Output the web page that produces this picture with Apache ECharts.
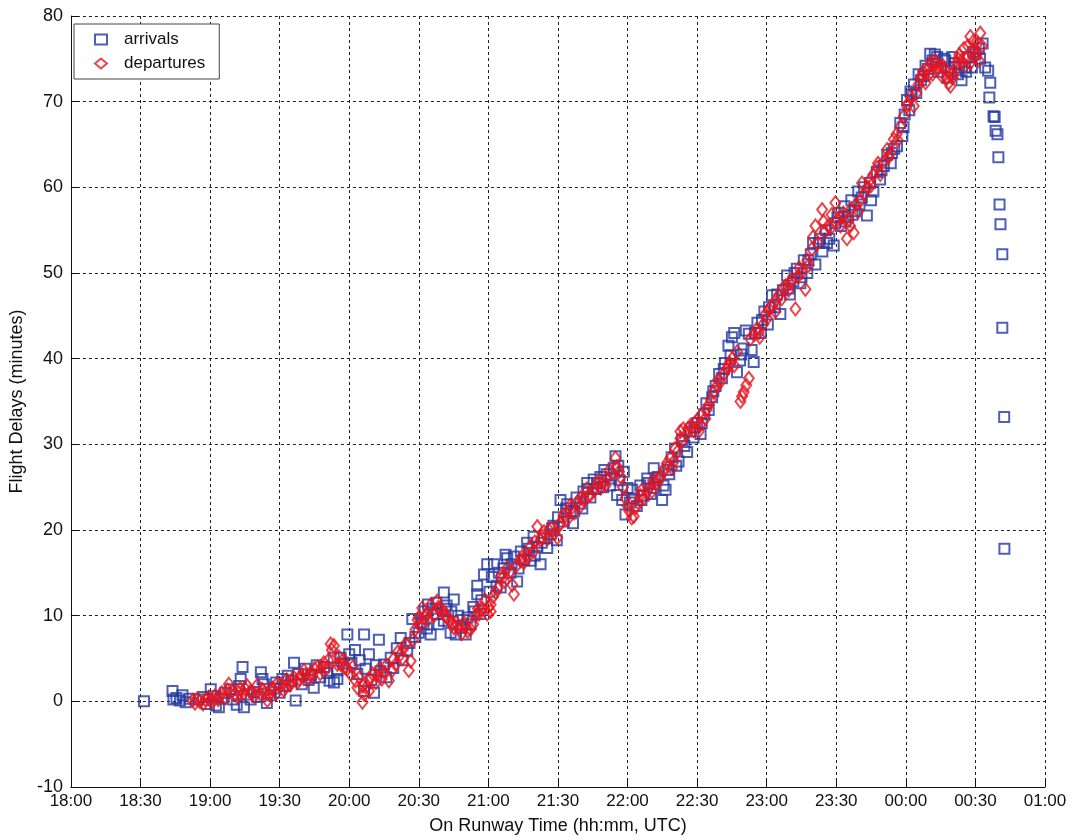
<!DOCTYPE html>
<html>
<head>
<meta charset="utf-8">
<script src="https://cdn.jsdelivr.net/npm/echarts@6/dist/echarts.min.js"></script>
<style>html,body{margin:0;padding:0;background:#fff}#c{width:1073px;height:840px}</style>
</head>
<body>
<div id="c"></div>
<script>
// x values: minutes after 18:00 UTC; y values: delay in minutes
const xTickLabels = ["18:00","18:30","19:00","19:30","20:00","20:30","21:00","21:30","22:00","22:30","23:00","23:30","00:00","00:30","01:00"];
const yTicks = [-10,0,10,20,30,40,50,60,70,80];
const seriesNames = ["arrivals","departures"];

const arrivals = [
[31.5,0],
[43.8,1.2],[44.2,0.2],[45.5,0.4],[47,0.1],[48.1,0.7],[49.5,-0.1],[51,0.3],
[55,0.2],[57,0.5],[58.5,-0.3],[60.3,1.4],[61.5,0.6],[62.5,-0.5],[63.8,-0.7],[65,0.3],[66.5,1.0],[68.9,1.4],[70,0.2],[71.5,-0.4],[72.5,1.8],[73.2,2.6],[74,4.0],[74.6,-0.7],[76,0.8],[77.5,0.2],[79,1.1],[80.5,0.5],[81.9,3.4],[82.6,2.6],[83.2,2.0],[84.5,-0.2],[86.2,0.7],[87.5,1.5],[88.5,2.2],[90,1.0],[91.2,2.6],[92.5,1.8],[93.5,3.0],[95,2.4],[96.2,4.5],[96.9,0.1],[98,3.2],[99.5,2.0],[101,3.8],[102.5,2.5],[103.5,3.1],[104.7,1.6],[106,4.2],[107.5,2.8],[109.1,4.0],[110.5,3.3],[111.5,2.4],[113.3,5.1],[113.4,2.2],[114.9,2.6],[114.9,3.6],[116.3,5.1],[117.5,4.4],[119.2,7.8],[120,5.5],[121,4.5],[122.5,6.0],[123.5,3.2],[124.5,4.8],[126.4,7.8],[126.4,1.2],[127,3.8],[128.5,5.5],[129.5,2.5],[130.7,1.0],[131.5,4.2],[132.8,7.2],[133.5,3.5],[135,4.3],[136,2.8],[137.9,5.1],[139,3.9],[140.5,6.2],[142.2,7.4],[143,4.8],[145,5.9],[146,6.8],[147.2,9.6],[148.5,7.5],[150,8.0],[151,9.2],[152,9.0],[152.5,10.5],[153.5,8.5],[154,11.3],[155.1,7.8],[156,10.8],[157.5,11.5],[158,10.2],[158.5,9.0],[160.8,12.7],[160.8,9.4],[161.5,10.8],[162,11.2],[163.7,8.0],[164,10.5],[165.1,11.9],[165.9,7.8],[167,10.0],[168.5,8.6],[169,9.5],[170.2,7.8],[171,9.8],[172.3,9.0],[173.5,11.0],[174,10.5],[175.2,13.5],[175.2,12.5],[176.5,10.2],[177,11.8],[178.1,14.8],[179.5,16.0],[180.5,12.8],[181.5,14.5],[182.4,16.0],[183.5,13.5],[184.5,15.0],[185.3,13.3],[186.5,15.5],[187.4,17.1],[188.1,16.7],[189.5,15.0],[190,16.0],[191,16.9],[192.4,14.0],[193,15.5],[194,17.5],[195.5,16.5],[196.7,18.5],[197.5,17.8],[198.2,16.4],[199.5,19.2],[200,17.0],[201,18.0],[202.5,16.0],[203,18.5],[204,19.0],[205.4,17.9],[206.8,19.5],[207.5,20.2],[208,20.5],[209.5,18.8],[210,21.5],[211.1,23.5],[212.5,21.0],[213.5,22.5],[214,23.0],[215.4,22.2],[216.5,20.8],[217,22.2],[218,23.8],[219.7,23.1],[220.5,22.5],[221,24.5],[222.6,25.5],[223,24.8],[224,23.8],[225.4,25.9],[226.5,24.8],[227,25.5],[228.3,26.2],[229.5,25.0],[230,27.0],[231,26.5],[232.5,25.2],[233,26.0],[234,27.2],[234.8,28.6],[235.5,24.1],[236,27.5],[236.5,25.8],[237.7,23.5],[238.4,26.8],[239.1,21.8],[240,24.9],[241,23.2],[242,24.7],[242.7,23.7],[244,22.8],[245.5,25.2],[246,23.5],[247,24.0],[248.5,26.0],[249,25.5],[250,24.2],[251.3,27.2],[251.3,24.9],[252,25.8],[253,26.2],[254.9,23.5],[255.5,25.2],[256.4,24.7],[257.5,27.0],[258,26.5],[259,28.5],[260.5,29.5],[261,27.5],[262,28.0],[263.5,30.5],[264.5,29.8],[265.7,29.1],[267,31.5],[268.5,30.8],[269,32.0],[270,32.5],[271.5,31.2],[272,32.5],[273,33.5],[274,34.8],[275,34.0],[276.5,35.5],[277,36.2],[278,36.8],[279.5,38.2],[280.7,37.7],[281.5,38.8],[282,39.5],[283.5,41.5],[284.4,40.4],[285,42.5],[286,43.0],[287.2,38.4],[288.5,39.8],[289,40.5],[290,41.2],[291,43.3],[292.3,42.9],[293.5,41.0],[294.4,39.6],[295,43.0],[296,44.2],[297.5,43.0],[298,44.5],[299,45.5],[300.5,44.0],[301,46.0],[302.3,47.4],[303.5,46.0],[304.5,47.5],[305.9,45.2],[307,48.0],[308.8,49.7],[309.5,48.2],[310,47.5],[311.5,49.0],[312,50.0],[313,50.5],[314.5,48.8],[315,49.5],[316,51.5],[317.5,50.0],[318,51.5],[319,52.2],[320,53.5],[321,51.0],[322.5,53.5],[323,54.0],[324,52.5],[325.5,55.0],[326,53.5],[327,54.0],[328.9,53.2],[329.5,55.8],[330.5,56.5],[331,57.0],[332,55.5],[333.5,57.8],[334,56.0],[335,56.5],[336.5,58.5],[337,56.8],[338,57.2],[339.5,59.5],[340,58.0],[341,58.8],[342,60.0],[343.2,56.7],[344.5,60.5],[345,58.5],[346,59.5],[347.5,61.8],[348.9,60.9],[349.5,62.0],[350.5,62.5],[352,63.8],[353.5,62.8],[354,64.0],[355,64.5],[356.2,64.8],[357.6,67.5],[358.5,66.0],[359,67.0],[359.5,68.5],[360.5,70.2],[361.5,69.0],[362,71.2],[362.5,70.8],[363.5,72.0],[364.5,71.0],[365.5,73.2],[366.5,72.5],[367.6,73.0],[368.5,74.2],[369.5,73.8],[370.5,75.6],[371.5,74.8],[372.5,75.5],[373.5,75.2],[374,73.5],[375,74.0],[376.5,75.0],[377,74.8],[378,72.8],[379.5,73.6],[380,75.2],[381,74.5],[382.5,73.2],[383,74.0],[384,72.5],[385.5,74.0],[386,73.5],[387,75.2],[388.5,74.0],[389,75.8],[390,75.5],[391.5,76.2],[392,75.0],[393.1,76.8],
[394.2,74.0],[395.5,73.6],[396.4,72.2],[396.0,70.5],[397.8,68.3],[398.3,68.2],[398.7,66.6],[399.5,66.2],[399.9,63.5],[400.4,58.0],[400.8,55.7],[401.6,52.2],[401.6,43.6],[402.4,33.2],[402.5,17.8]
];

const departures = [
[52.4,0.1],[53.5,-0.2],[54.5,0.3],[55.5,0.0],[57,-0.3],[58,0.2],[59.5,0.5],[60,0.1],[61,-0.1],[62,0.6],[63.5,0.2],[64,0.6],[65,1.0],[66.5,0.4],[67.5,1.3],[68.1,2.0],[69.5,1.2],[70.5,0.8],[71.8,0.5],[72.5,1.0],[73,1.5],[74.5,0.9],[75,1.5],[76,1.8],[77.5,1.2],[78,0.9],[79,0.6],[80.4,1.9],[81.5,0.9],[82.5,1.4],[83.5,1.0],[84.7,0.1],[85.5,0.8],[86,1.4],[87,1.5],[88.5,0.9],[89,2.1],[90,1.8],[91.8,1.3],[92.5,1.8],[93,2.5],[94.5,1.9],[95,2.3],[96,2.8],[97.7,2.2],[98.5,2.6],[99,3.0],[100.5,3.6],[101,3.1],[102,2.6],[103.5,3.3],[104,2.9],[105,3.8],[106.3,4.0],[107.5,3.2],[108,3.9],[109,4.5],[110.5,3.9],[111,4.8],[112,6.7],[112.5,6.0],[113.4,6.5],[114.9,4.3],[115.5,5.2],[116.3,4.3],[117.5,4.9],[118,4.0],[119.2,3.8],[120.5,3.2],[121.5,4.0],[122.8,2.4],[123.5,1.6],[124.5,2.8],[125.7,-0.1],[126,1.8],[126.5,0.8],[127.8,1.8],[128.5,1.2],[129,2.6],[130,3.2],[131.5,2.2],[132,3.0],[133,3.8],[134,2.6],[135,3.4],[136,4.2],[137.1,2.4],[138.5,3.6],[139,4.9],[140,4.3],[141,5.8],[142.2,5.5],[143,5.0],[143.5,6.2],[144.3,6.7],[145.7,3.6],[146.5,4.7],[147.5,7.2],[148.6,8.4],[149.5,9.5],[150,9.8],[150.5,8.8],[151.5,10.9],[152.5,9.8],[153.6,10.3],[154,9.6],[155,11.2],[156.5,10.0],[157.9,11.7],[158.5,11.0],[159,10.8],[160.8,10.5],[161.5,10.0],[162,9.8],[163.7,9.4],[164.5,9.0],[165,8.6],[166,9.2],[167.3,8.6],[168.5,7.9],[169.5,9.2],[170,8.8],[171,8.2],[172.3,8.4],[173.5,9.0],[174.5,10.0],[175.5,10.8],[176,10.2],[177.3,10.9],[178.5,11.8],[179.5,10.2],[180,11.0],[181,11.3],[181,10.5],[182,12.2],[183.1,12.7],[184,13.2],[185.3,14.6],[186.7,14.6],[187,14.0],[188,15.5],[189.6,15.2],[190.3,13.6],[191,12.5],[192,15.8],[193.9,16.4],[194.5,16.9],[195.3,16.2],[196.5,17.2],[197,16.8],[198.2,18.1],[199.5,17.5],[200,18.6],[201.1,20.4],[202.5,18.8],[203,19.2],[204,19.8],[205.5,19.0],[206,20.0],[207,20.2],[208.5,19.6],[209.7,19.1],[210.5,20.5],[211,20.8],[212.5,21.8],[213,21.6],[214,21.2],[215.4,22.9],[216,22.6],[217,22.0],[218.5,23.3],[219.7,22.8],[220,23.8],[221,23.5],[222.5,24.8],[223,24.0],[224,24.1],[225.5,24.6],[226.9,25.3],[227.5,25.8],[228.3,24.9],[229.8,25.6],[230.5,25.2],[231,26.0],[232.2,27.0],[233.4,26.6],[234.8,28.4],[235.5,27.4],[236.3,26.8],[237,26.2],[238,25.0],[239.1,23.7],[240,22.8],[240.8,22.2],[241.8,21.4],[242.7,21.6],[243.5,22.6],[244.5,23.2],[245.5,24.0],[246,24.6],[247,23.7],[248.5,24.5],[249.9,25.1],[250.5,24.5],[251,25.8],[252.8,25.5],[253.5,26.0],[254,26.2],[255.6,26.8],[256,27.2],[257,27.8],[258.5,28.4],[259.2,27.2],[260,28.0],[260.5,29.5],[261.4,29.1],[262.8,30.7],[262.8,31.5],[263.5,30.4],[264,31.8],[265.5,31.2],[266,31.8],[267.1,32.2],[268.5,31.6],[269,32.5],[270,32.8],[270.7,31.5],[271.5,32.3],[272,33.5],[273.5,33.0],[274,34.0],[275,34.6],[276,35.2],[277.1,36.1],[278.5,36.8],[279,37.5],[280,37.3],[281.5,38.2],[282.9,38.8],[283.5,39.2],[284,39.5],[285.1,40.0],[286,39.2],[287.2,40.8],[288.7,35.0],[289.4,35.6],[290.1,36.1],[291.2,36.9],[292.3,37.7],[293,42.3],[294.5,42.8],[295.8,43.5],[296.5,43.0],[297,42.5],[298.5,44.0],[299.5,45.2],[300.2,44.7],[301,45.8],[302.3,46.2],[303.8,45.5],[304,46.8],[305.2,47.4],[306.5,47.0],[307,48.2],[308.1,48.5],[309.5,48.0],[310,48.8],[311,49.3],[312.4,45.8],[313.5,49.6],[314,50.6],[315.2,50.1],[316.7,48.1],[317.5,51.5],[318.1,50.9],[319.5,52.8],[320,54.2],[321,55.5],[322,53.5],[323.9,57.4],[324.5,56.0],[325,54.8],[326.5,55.5],[327.5,55.2],[328,56.8],[329.6,58.2],[330.5,56.2],[331.8,55.5],[332.5,56.5],[333,57.0],[334.6,54.0],[335.5,56.2],[336,55.5],[336.5,57.5],[337.5,54.7],[338.5,58.0],[339.5,57.2],[340.5,58.5],[341.1,60.5],[342,59.2],[343.5,60.0],[344.7,60.9],[345,60.2],[346,61.5],[347.6,62.3],[348,62.8],[349,61.5],[350.5,63.0],[351.9,64.4],[352.5,63.5],[353.5,64.0],[354.8,65.6],[356,66.2],[356.5,65.5],[357.6,67.1],[359.1,68.3],[360.5,69.5],[361,69.8],[362,70.6],[363.4,69.5],[364.5,71.0],[365.5,72.0],[366.3,72.6],[366.8,73.0],[367.5,73.5],[368.5,72.2],[369.5,73.8],[370,73.2],[370.6,74.5],[371.5,73.2],[372.5,74.8],[373,74.5],[373.5,73.7],[374.5,74.2],[375.5,73.0],[376,74.2],[376.5,73.8],[377.5,72.8],[378.5,72.2],[379.2,71.8],[379.8,73.2],[380.2,72.8],[381,73.5],[382,74.5],[382.5,75.0],[383,75.5],[384,74.8],[385,76.2],[385.5,74.2],[386,75.0],[386.8,76.5],[387.8,77.6],[387.8,74.5],[388.8,76.0],[389,77.0],[389.7,75.2],[390.6,75.6],[391,76.8],[391.5,74.8],[392.1,78.0],[392.8,76.5]
];

const FONT = '"Liberation Sans", Arial, sans-serif';
const BLUE = '#2238a0';
const RED = '#e8141e';

const chart = echarts.init(document.getElementById('c'), null, {renderer: 'canvas'});
const gridLine = {show: true, lineStyle: {color: '#222', type: [3, 3], width: 1}};
chart.setOption({
  animation: false,
  backgroundColor: '#fff',
  grid: {left: 70, right: 28, top: 16, bottom: 50, containLabel: false},
  legend: {
    orient: 'vertical', left: 74, top: 24,
    backgroundColor: '#fff', borderColor: '#444', borderWidth: 1, borderRadius: 0,
    padding: [7, 14, 7, 20], itemGap: 7, itemWidth: 12, itemHeight: 10,
    textStyle: {fontFamily: FONT, fontSize: 17, color: '#111', padding: [0, 0, 0, 12]},
    data: [
      {name: seriesNames[0], icon: 'rect', itemStyle: {color: 'transparent', borderColor: BLUE, borderWidth: 2}},
      {name: seriesNames[1], icon: 'diamond', itemStyle: {color: 'transparent', borderColor: RED, borderWidth: 2}}
    ]
  },
  xAxis: {
    type: 'value', min: 0, max: 420, interval: 30,
    name: 'On Runway Time (hh:mm, UTC)', nameLocation: 'middle', nameGap: 30,
    nameTextStyle: {fontFamily: FONT, fontSize: 18, color: '#111'},
    axisLine: {show: true, onZero: false, lineStyle: {color: '#111', width: 1}},
    axisTick: {show: true, inside: true, length: 8, lineStyle: {color: '#111'}},
    axisLabel: {fontFamily: FONT, fontSize: 17, color: '#111', margin: 6,
      formatter: v => xTickLabels[Math.round(v / 30)]},
    splitLine: gridLine
  },
  yAxis: {
    type: 'value', min: yTicks[0], max: yTicks[yTicks.length - 1], interval: 10,
    name: 'Flight Delays (minutes)', nameLocation: 'middle', nameGap: 41, nameRotate: 90,
    nameTextStyle: {fontFamily: FONT, fontSize: 18, color: '#111'},
    axisLine: {show: true, onZero: false, lineStyle: {color: '#111', width: 1}},
    axisTick: {show: true, inside: true, length: 8, lineStyle: {color: '#111'}},
    axisLabel: {fontFamily: FONT, fontSize: 18, color: '#111', margin: 8},
    splitLine: gridLine
  },
  series: [
    {name: seriesNames[0], type: 'scatter', data: arrivals, symbol: 'rect', symbolSize: 10,
     itemStyle: {color: 'transparent', borderColor: BLUE, borderWidth: 2}, z: 2},
    {name: seriesNames[1], type: 'scatter', data: departures, symbol: 'diamond', symbolSize: [10, 13],
     itemStyle: {color: 'transparent', borderColor: RED, borderWidth: 2}, z: 3}
  ]
});
</script>
</body>
</html>
